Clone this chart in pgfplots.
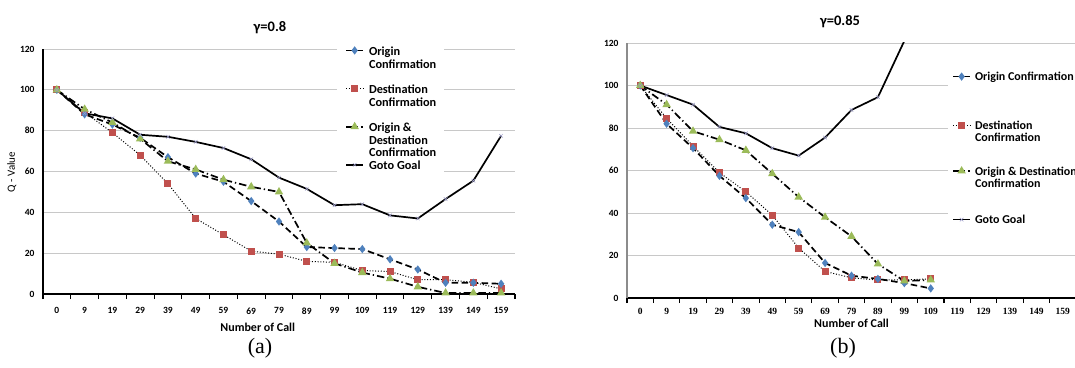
\documentclass[border=0pt]{standalone}
\usepackage{fontspec}
\setmainfont{Carlito}
\newfontfamily\tnr{Liberation Serif}
\usepackage{pgfplots}
\pgfplotsset{compat=1.18}
\usepackage{pgfplotstable}
\definecolor{cblue}{HTML}{4F81BD}
\definecolor{cred}{HTML}{C0504D}
\definecolor{cgreen}{HTML}{9BBB59}
\definecolor{cgrid}{HTML}{C8C8C8}
\definecolor{cgg}{HTML}{9A9AC8}
\definecolor{cyax}{HTML}{8C8C8C}

% gamma = 0.8
\pgfplotstableread{
x OC DC ODC GG
0 100 100 100 100
1 88 89 90.5 88.5
2 83 79 84 86
3 76.5 68 76 78
4 67 54 65 77
5 59 37 61 74.5
6 55 29 56 71.5
7 45.5 21 52.5 66
8 35.5 19.5 50 57
9 23 16 25 51.5
10 22.5 15.5 15 43.5
11 22 11.5 10.5 44
12 17 11 7.5 38.5
13 12 7 3.5 37
14 5.5 7 0.5 46.5
15 5.5 5.7 0.5 55.5
16 5 2.5 0.5 77.5
}\dataA

% gamma = 0.85
\pgfplotstableread{
x OC DC ODC GG
0 100 100 100 100
1 82 84.5 91 95.5
2 70.5 71.5 78.5 91
3 57.5 59 74.5 80.5
4 47 50 69.5 77.5
5 34.5 39 58.5 70.5
6 31 23.5 47.5 67
7 16.5 12.5 38 75.5
8 10.5 9.5 29 88.5
9 9 8.5 16 94.5
10 7 8.5 8 121
11 4.5 9 8.5 nan
}\dataB

\newcommand{\lsA}{\rule[-3.4pt]{0pt}{14.6pt}}
\newcommand{\lsB}{\rule[-3.2pt]{0pt}{13.5pt}}

\pgfplotsset{
  ocstyle/.style={black, line width=1.7pt, dash pattern=on 6.5pt off 3.5pt, mark=diamond*, mark size=2.8pt, mark options={solid, fill=cblue, draw=cblue}},
  dcstyle/.style={black, line width=1pt, dash pattern=on 1pt off 1.8pt, mark=square*, mark size=3pt, mark options={solid, fill=cred, draw=cred}},
  odcstyle/.style={black, line width=1.7pt, dash pattern=on 7.5pt off 3pt on 1.3pt off 3pt, mark=triangle*, mark size=3.2pt, mark options={solid, fill=cgreen, draw=cgreen}},
  ggstyle/.style={black, line width=1.7pt, mark=x, mark size=2.5pt, mark options={solid, draw=cgg, line width=0.5pt}},
  common/.style={
    scale only axis,
    ymin=0, ymax=120, ytick={0,20,...,120},
    ymajorgrids, grid style={cgrid, line width=0.9pt},
    axis x line*=bottom, axis y line*=left,
    xmin=-0.5, xmax=16.5,
    xtick={-0.5,0.5,...,16.5},
    x tick label as interval,
    xticklabels={0,9,19,29,39,49,59,69,79,89,99,109,119,129,139,149,159},
    tick align=outside, major tick length=5pt,
    xtick style={black, line width=1.1pt},
    ytick style={draw=none},
    /pgf/number format/assume math mode=true,
    legend cell align=left,
    clip=true,
  },
}

\begin{document}
\begin{tikzpicture}
\useasboundingbox (0,0) rectangle (1075pt,367pt);

% ---------------- (a) ----------------
\begin{axis}[common,
  at={(43pt,73pt)}, anchor=south west,
  width=472pt, height=245pt,
  x axis line style={black, line width=2.6pt, -},
  y axis line style={black, line width=2.4pt, -},
  xticklabel style={font=\bfseries\fontsize{9.5}{11}\selectfont, yshift=-5pt},
  yticklabel style={font=\bfseries\fontsize{9.5}{11}\selectfont},
  xlabel={Number of Call},
  xlabel style={font=\bfseries\fontsize{12}{14}\selectfont, at={(axis description cs:0.455,-0.135)}, anchor=center},
  ylabel={Q - Value},
  ylabel style={font=\fontsize{11}{13}\selectfont, at={(axis description cs:-0.066,0.498)}, anchor=center, rotate=0},
  legend style={at={(0.623,1.033)}, anchor=north west, fill=white, draw=none,
    inner xsep=8pt, inner ysep=3pt, row sep=0pt, column sep=5pt,
    nodes={inner sep=0pt}, font=\bfseries\fontsize{12.3}{14}\selectfont},
]
\addplot[dcstyle, forget plot] table[x=x, y=DC] {\dataA};
\addplot[ocstyle, forget plot] table[x=x, y=OC] {\dataA};
\addplot[odcstyle, forget plot] table[x=x, y=ODC] {\dataA};
\addplot[ggstyle, forget plot] table[x=x, y=GG] {\dataA};

\addlegendimage{ocstyle}\addlegendentry{\lsA Origin}
\addlegendimage{empty legend}\addlegendentry{\lsA Confirmation}
\addlegendimage{empty legend}\addlegendentry{\lsA}
\addlegendimage{dcstyle}\addlegendentry{\lsA Destination}
\addlegendimage{empty legend}\addlegendentry{\lsA Confirmation}
\addlegendimage{empty legend}\addlegendentry{\lsA}
\addlegendimage{odcstyle}\addlegendentry{\lsA Origin \&}
\addlegendimage{empty legend}\addlegendentry{\lsA Destination}
\addlegendimage{empty legend}\addlegendentry{\lsA Confirmation}
\addlegendimage{ggstyle}\addlegendentry{\lsA Goto Goal}
\end{axis}

% ---------------- (b) ----------------
\begin{axis}[common,
  at={(627pt,69pt)}, anchor=south west,
  width=449pt, height=255pt,
  x axis line style={black, line width=2.6pt, -},
  y axis line style={cyax, line width=2.4pt, -},
  xticklabel style={font=\tnr\bfseries\fontsize{9.5}{11}\selectfont, yshift=-2pt},
  yticklabel style={font=\bfseries\fontsize{9.5}{11}\selectfont},
  xlabel={Number of Call},
  xlabel style={font=\bfseries\fontsize{12}{14}\selectfont, at={(axis description cs:0.5,-0.098)}, anchor=center},
  legend style={at={(0.715,0.904)}, anchor=north west, fill=white, draw=none,
    inner xsep=4pt, inner ysep=3pt, row sep=0pt, column sep=4pt,
    nodes={inner sep=0pt}, font=\bfseries\fontsize{12}{14}\selectfont},
]
\addplot[dcstyle, forget plot] table[x=x, y=DC] {\dataB};
\addplot[ocstyle, forget plot] table[x=x, y=OC] {\dataB};
\addplot[odcstyle, forget plot] table[x=x, y=ODC] {\dataB};
\addplot[ggstyle, forget plot, unbounded coords=discard] table[x=x, y=GG] {\dataB};

\addlegendimage{ocstyle}\addlegendentry{\lsB Origin Confirmation}
\addlegendimage{empty legend}\addlegendentry{\rule{0pt}{35.5pt}}
\addlegendimage{dcstyle}\addlegendentry{\lsB Destination}
\addlegendimage{empty legend}\addlegendentry{\lsB Confirmation}
\addlegendimage{empty legend}\addlegendentry{\rule{0pt}{20.5pt}}
\addlegendimage{odcstyle}\addlegendentry{\lsB Origin \& Destination}
\addlegendimage{empty legend}\addlegendentry{\lsB Confirmation}
\addlegendimage{empty legend}\addlegendentry{\rule{0pt}{23.5pt}}
\addlegendimage{ggstyle}\addlegendentry{\lsB Goto Goal}
\end{axis}

\node[font=\bfseries\fontsize{14.5}{16}\selectfont] at (270pt,339pt) {γ=0.8};
\node[font=\bfseries\fontsize{14.5}{16}\selectfont] at (840pt,345pt) {γ=0.85};
\node[font=\tnr\fontsize{22}{24}\selectfont] at (260pt,19pt) {(a)};
\node[font=\tnr\fontsize{22}{24}\selectfont] at (843pt,19pt) {(b)};
\end{tikzpicture}
\end{document}
